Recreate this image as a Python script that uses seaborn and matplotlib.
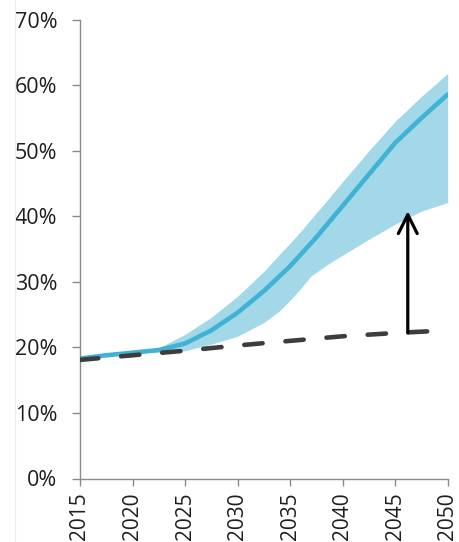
import matplotlib
matplotlib.use("Agg")
import matplotlib.pyplot as plt
from matplotlib.lines import Line2D
from matplotlib.ticker import FuncFormatter
import seaborn as sns

# Central projection (share, %)
years = [2015, 2017.5, 2020, 2022.5, 2025, 2027.5, 2030, 2032.5, 2035,
         2037.5, 2040, 2042.5, 2045, 2047.5, 2050]
central = [18.3, 18.8, 19.2, 19.6, 20.6, 22.6, 25.3, 28.6, 32.4,
           36.8, 41.6, 46.4, 51.2, 55.0, 58.6]

# Range of outcomes around the central projection (%)
band_years = [2015, 2020, 2022.5, 2025, 2027.5, 2030, 2032.5, 2034, 2035,
              2036, 2037, 2038.5, 2040, 2042.5, 2045, 2047.5, 2050]
band_upper = [18.3, 19.2, 19.9, 22.0, 24.6, 27.8, 31.6, 34.2, 35.9,
              37.7, 39.6, 42.4, 45.3, 50.0, 54.5, 58.3, 61.8]
band_lower = [18.3, 19.1, 19.3, 19.5, 20.5, 21.7, 23.8, 25.6, 27.2,
              29.0, 30.9, 32.6, 34.1, 36.5, 38.8, 40.8, 42.1]

# Baseline trajectory (%)
base_years = [2015, 2020, 2025, 2030, 2035, 2040, 2045, 2050]
baseline = [18.1, 18.8, 19.5, 20.3, 21.0, 21.7, 22.2, 22.6]

# Gap arrow: year, from (%) and to (%)
arrow_year = 2046.2
arrow_from = 22.2
arrow_to = 40.8

x_ticks = [2015, 2020, 2025, 2030, 2035, 2040, 2045, 2050]
y_ticks = [0, 10, 20, 30, 40, 50, 60, 70]

LINE_BLUE = "#40b3d5"
BAND_BLUE = "#a2d8e7"
DASH_GREY = "#3d3d3d"
AXIS_GREY = "#8a8a8a"
TEXT = "#1e1e1e"

sns.set_style("ticks")
plt.rcParams["font.family"] = ["Open Sans", "DejaVu Sans"]

fig = plt.figure(figsize=(4.59, 5.42), dpi=100)
fig.patch.set_facecolor("white")
ax = fig.add_axes([80 / 459, 1 - 478.5 / 542, (447.7 - 80) / 459, (478.5 - 19.7) / 542])

ax.fill_between(band_years, band_lower, band_upper, color=BAND_BLUE, lw=0, zorder=1)

sns.lineplot(x=years, y=central, ax=ax, color=LINE_BLUE, lw=3.3, zorder=2)

sns.lineplot(x=base_years, y=baseline, ax=ax, color=DASH_GREY, lw=3.3, zorder=3)
dash_line = ax.lines[-1]
dash_line.set_dashes((4.0, 5.0))
dash_line.set_dash_capstyle("round")

ax.annotate("", xy=(arrow_year, arrow_to), xytext=(arrow_year, arrow_from),
            arrowprops=dict(arrowstyle="->", lw=2.3, color="black",
                            mutation_scale=34, shrinkA=0, shrinkB=0),
            zorder=4)

ax.set_xlim(2015, 2050)
ax.set_ylim(0, 70)
ax.set_xticks(x_ticks)
ax.set_yticks(y_ticks)
ax.set_xticklabels([str(t) for t in x_ticks])
ax.yaxis.set_major_formatter(FuncFormatter(lambda v, _: f"{v:.0f}%"))
ax.set_xlabel("")
ax.set_ylabel("")

sns.despine(ax=ax)
for side in ("left", "bottom"):
    ax.spines[side].set_color(AXIS_GREY)
    ax.spines[side].set_linewidth(1.0)

ax.tick_params(axis="y", length=5.8, width=1.0, color=AXIS_GREY, pad=10.5,
               labelsize=15.5, labelcolor=TEXT)
ax.tick_params(axis="x", length=5.0, width=1.0, color=AXIS_GREY, pad=5.0,
               labelsize=15, labelcolor=TEXT, labelrotation=90)

# thin frame edge at the left of the canvas
fig.add_artist(Line2D([15 / 459, 15 / 459], [0, 1], transform=fig.transFigure,
                      color="#ececec", lw=0.8))

fig.savefig("out.png", dpi=100, facecolor="white")
